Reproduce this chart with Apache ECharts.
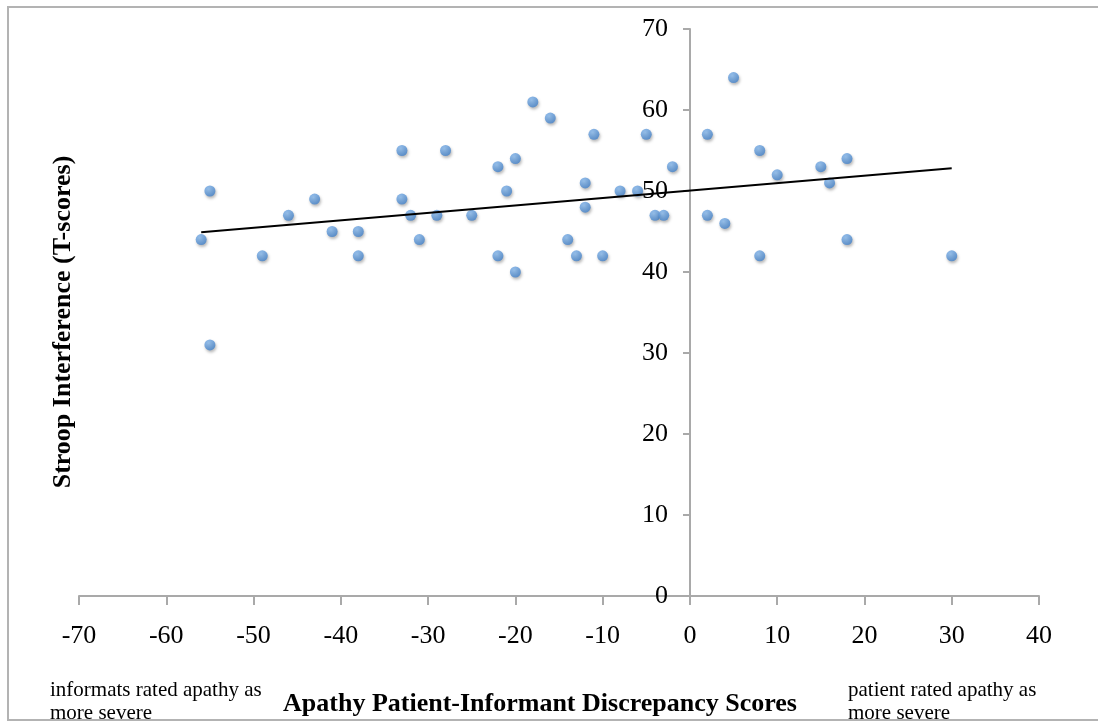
<!DOCTYPE html>
<html>
<head>
<meta charset="utf-8">
<script src="https://cdn.jsdelivr.net/npm/echarts@6/dist/echarts.min.js"></script>
<style>
html,body{margin:0;padding:0;background:#fff;}
#chart{width:1098px;height:722px;}
</style>
</head>
<body>
<div id="chart"></div>
<script>
// Apathy patient-informant discrepancy (x) vs Stroop interference T-score (y)
const discrepancy = [-56,-55,-55,-49,-46,-43,-41,-38,-38,-33,-33,-32,-31,-29,-28,-25,-22,-22,-21,-20,-20,-18,-16,-14,-13,-12,-12,-11,-10,-8,-6,-5,-4,-3,-2,2,2,4,5,8,8,10,15,16,18,18,30];
const stroop      = [ 44, 50, 31, 42, 47, 49, 45, 45, 42, 55, 49, 47, 44, 47, 55, 47, 53, 42, 50, 54, 40, 61, 59, 44, 42, 51, 48, 57, 42, 50, 50, 57, 47, 47, 53, 57, 47, 46, 64, 55, 42, 52, 53, 51, 54, 44, 42];
// Linear trend line endpoints
const trendX = [-56, 30];
const trendY = [44.9, 52.8];
const xTicks = {min: -70, max: 40, step: 10};
const yTicks = {min: 0, max: 70, step: 10};
const yTitle = 'Stroop Interference (T-scores)';
const xTitle = 'Apathy Patient-Informant Discrepancy Scores';
const leftNote = 'informats rated apathy as\nmore severe';
const rightNote = 'patient rated apathy as\nmore severe';

const points = discrepancy.map((x, i) => [x, stroop[i]]);
const trend = trendX.map((x, i) => [x, trendY[i]]);

const serif = '"Liberation Serif", "DejaVu Serif", serif';
const axisGray = '#a9a9a9';

const chart = echarts.init(document.getElementById('chart'), null, {renderer: 'canvas'});
chart.setOption({
  animation: false,
  backgroundColor: '#fff',
  grid: {left: 79, right: 59, top: 29, bottom: 126, containLabel: false, outerBoundsMode: 'none'},
  xAxis: {
    type: 'value', min: xTicks.min, max: xTicks.max, interval: xTicks.step,
    splitLine: {show: false},
    axisLine: {onZero: false, lineStyle: {color: axisGray, width: 2}},
    axisTick: {show: true, inside: false, length: 9, lineStyle: {color: axisGray, width: 2}},
    axisLabel: {color: '#000', fontFamily: serif, fontSize: 26, margin: 27}
  },
  yAxis: {
    type: 'value', min: yTicks.min, max: yTicks.max, interval: yTicks.step,
    position: 'left',
    // place the vertical axis at x = 0 (70 units of 960/110 px from the grid's left edge)
    offset: -611,
    splitLine: {show: false},
    axisLine: {show: true, onZero: false, lineStyle: {color: axisGray, width: 2}},
    axisTick: {show: true, inside: false, length: 7, lineStyle: {color: axisGray, width: 2}},
    axisLabel: {color: '#000', fontFamily: serif, fontSize: 26, margin: 22}
  },
  series: [
    {
      type: 'scatter',
      data: points,
      symbol: 'circle',
      symbolSize: 11,
      z: 3,
      itemStyle: {
        color: {
          type: 'radial', x: 0.4, y: 0.35, r: 0.7,
          colorStops: [{offset: 0, color: '#86b8ec'}, {offset: 1, color: '#3f7fc9'}]
        },
        shadowBlur: 3, shadowColor: 'rgba(0,0,0,0.35)', shadowOffsetX: 1, shadowOffsetY: 2
      }
    },
    {
      type: 'line',
      data: trend,
      symbol: 'none',
      z: 4,
      lineStyle: {color: '#000', width: 2}
    }
  ],
  graphic: [
    {
      type: 'polyline', z: 10, silent: true,
      shape: {points: [[1110, 7], [8, 7], [8, 720], [1110, 720]]},
      style: {stroke: '#b3b3b3', lineWidth: 2, fill: null}
    },
    {
      type: 'text', x: 63, y: 322, rotation: Math.PI / 2,
      style: {text: yTitle, font: 'bold 26px ' + serif, fill: '#000', textAlign: 'center', textVerticalAlign: 'middle'}
    },
    {
      type: 'text', x: 540, y: 704,
      style: {text: xTitle, font: 'bold 26px ' + serif, fill: '#000', textAlign: 'center', textVerticalAlign: 'middle'}
    },
    {
      type: 'text', x: 50, y: 679,
      style: {text: leftNote, font: '21px ' + serif, fill: '#000', lineHeight: 23, textAlign: 'left', textVerticalAlign: 'top'}
    },
    {
      type: 'text', x: 848, y: 679,
      style: {text: rightNote, font: '21px ' + serif, fill: '#000', lineHeight: 23, textAlign: 'left', textVerticalAlign: 'top'}
    }
  ]
});
</script>
</body>
</html>
